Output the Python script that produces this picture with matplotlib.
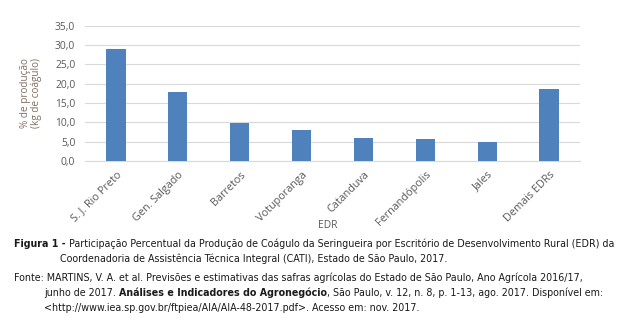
import matplotlib
matplotlib.use("Agg")
import matplotlib.pyplot as plt

categories = ["S. J. Rio Preto", "Gen. Salgado", "Barretos", "Votuporanga",
              "Catanduva", "Fernandópolis", "Jales", "Demais EDRs"]
values = [29.0, 17.8, 9.9, 8.0, 5.9, 5.7, 4.8, 18.7]
yticks = [0, 5, 10, 15, 20, 25, 30, 35]
ytick_labels = ["0,0", "5,0", "10,0", "15,0", "20,0", "25,0", "30,0", "35,0"]

W, H = 630.0, 331.0
fig = plt.figure(figsize=(6.3, 3.31), dpi=100)
ax = fig.add_axes([85 / W, 1 - 161 / H, 495 / W, 135.3 / H])
x = list(range(len(categories)))
ax.bar(x, values, width=0.31, color="#4f81bd", zorder=3)
ax.set_xlim(-0.5, len(categories) - 0.5)
ax.set_ylim(0, 35)
ax.set_yticks(yticks)
ax.set_yticklabels(ytick_labels)
ax.set_xticks(x)
ax.set_xticklabels(categories, rotation=45, ha="right", rotation_mode="anchor")
ax.grid(axis="y", color="#d9d9d9", linewidth=0.8, zorder=0)
for s in ["top", "right", "left"]:
    ax.spines[s].set_visible(False)
ax.spines["bottom"].set_color("#d9d9d9")
ax.tick_params(axis="y", length=0, labelsize=7.4, labelcolor="#595959", pad=7)
ax.tick_params(axis="x", length=0, labelsize=7.8, labelcolor="#595959", pad=6)
for t in ax.get_xticklabels() + ax.get_yticklabels():
    t.set_family("Open Sans")
ax.set_xlabel("EDR", fontsize=7.4, color="#595959", family="Open Sans", va="center")
ax.xaxis.set_label_coords(0.49, -0.48)
fig.text(31 / W, 1 - 93 / H, "% de produção\n(kg de coágulo)", rotation=90, ha="center",
         va="center", fontsize=7.2, color="#7f7060", family="Open Sans", linespacing=1.0)

cap_kw = dict(fontsize=7.7, color="#1a1a1a", family="DejaVu Sans", stretch="condensed")

def fy(py):
    return 1 - py / H

fig.canvas.draw()
r = fig.canvas.get_renderer()

def after(t):
    return t.get_window_extent(r).x1 / fig.bbox.width

f1 = fig.text(14 / W, fy(244), "Figura 1 - ", fontweight="bold", va="center", **cap_kw)
fig.text(after(f1), fy(244), "Participação Percentual da Produção de Coágulo da Seringueira por Escritório de Desenvolvimento Rural (EDR) da",
         va="center", **cap_kw)
fig.text(60 / W, fy(259), "Coordenadoria de Assistência Técnica Integral (CATI), Estado de São Paulo, 2017.",
         va="center", **cap_kw)
fig.text(14 / W, fy(278), "Fonte: MARTINS, V. A. et al. Previsões e estimativas das safras agrícolas do Estado de São Paulo, Ano Agrícola 2016/17,",
         va="center", **cap_kw)
t1 = fig.text(44 / W, fy(293), "junho de 2017. ", va="center", **cap_kw)
t2 = fig.text(after(t1), fy(293), "Análises e Indicadores do Agronegócio", fontweight="bold", va="center", **cap_kw)
fig.text(after(t2), fy(293), ", São Paulo, v. 12, n. 8, p. 1-13, ago. 2017. Disponível em:", va="center", **cap_kw)
fig.text(44 / W, fy(308), "<http://www.iea.sp.gov.br/ftpiea/AIA/AIA-48-2017.pdf>. Acesso em: nov. 2017.",
         va="center", **cap_kw)

fig.savefig("out.png", dpi=100, facecolor="white")
